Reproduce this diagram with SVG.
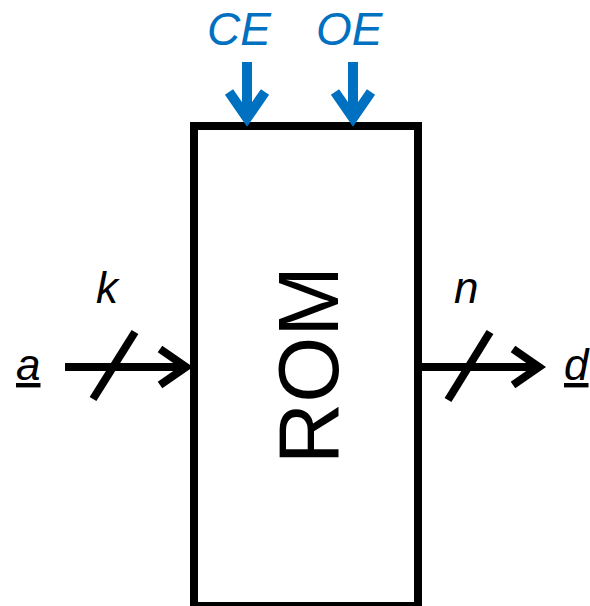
<svg xmlns="http://www.w3.org/2000/svg" width="590" height="606" viewBox="0 0 590 606">
<style>
.lbl{font-family:"Liberation Sans",Arial,sans-serif;font-style:italic;font-size:44px;fill:#000}
.ctl{font-family:"Liberation Sans",Arial,sans-serif;font-style:italic;font-size:46px;fill:#0070C0}
.blk{stroke:#000;stroke-width:8;fill:none}
.blu{stroke:#0070C0;stroke-width:10;fill:none}
</style>
<rect width="590" height="606" fill="#fff"/>
<g id="rom">
<rect x="194" y="126" width="224" height="480" class="blk" stroke-width="9"/>
<text x="338" y="365" transform="rotate(-90 338 365)" text-anchor="middle" font-family="Liberation Sans,Arial,sans-serif" font-size="85" fill="#000">ROM</text>
</g>
<g id="labels">
<text class="ctl" x="207" y="45">CE</text>
<text class="ctl" x="316" y="45">OE</text>
<text class="lbl" x="96" y="303">k</text>
<text class="lbl" x="454" y="303">n</text>
<text class="lbl" x="16" y="380" text-decoration="underline">a</text>
<text class="lbl" x="564" y="380" text-decoration="underline">d</text>
</g>
<g id="connectors">
<path class="blu" d="M247 62V118M229 92L247 118L265 92"/>
<path class="blu" d="M353 62V118M335 92L353 118L371 92"/>
<path class="blk" d="M65 367H186M160 349L186 367L160 385"/>
<path class="blk" d="M135 332L93 399"/>
<path class="blk" d="M418 367H539M513 349L539 367L513 385"/>
<path class="blk" d="M490 332L448 400"/>
</g>
</svg>
